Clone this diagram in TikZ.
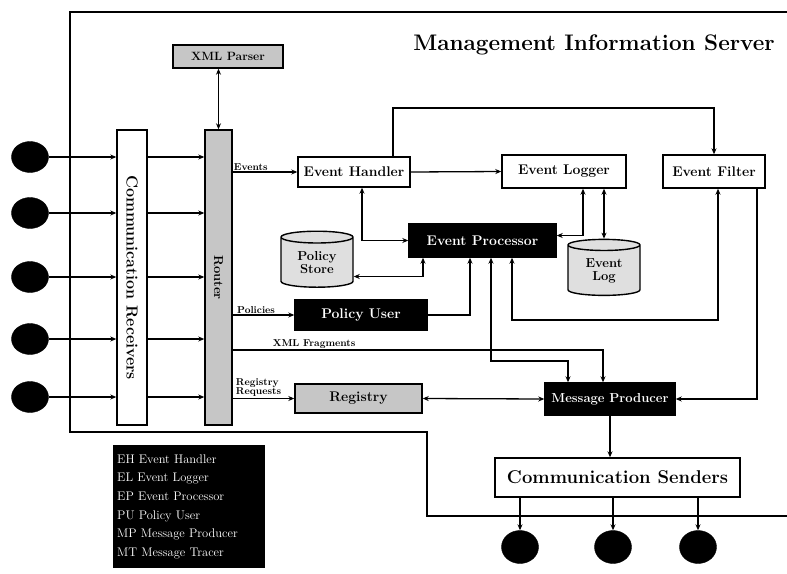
\documentclass[tikz,border=0pt]{standalone}
\usepackage{fontspec}
\usetikzlibrary{arrows.meta,shapes.geometric,calc}
\begin{document}
\begin{tikzpicture}[x=1pt,y=-1pt,
  box/.style={draw,line width=1.4pt,fill=white,inner sep=0pt,font=\bfseries\fontsize{14}{16}\selectfont},
  dark/.style={box,fill=black,text=white},
  grain/.style={box,fill=gray!45},
  arr/.style={line width=1.3pt,-{Stealth[length=6pt,width=5pt]}},
  dbl/.style={line width=1.3pt,{Stealth[length=6pt,width=5pt]}-{Stealth[length=6pt,width=5pt]}},
  lab/.style={font=\bfseries\fontsize{10}{11}\selectfont,inner sep=1pt},
  dot/.style={ellipse,fill=black,draw,minimum width=37,minimum height=31,inner sep=0pt},
  store/.style={cylinder,shape border rotate=90,draw,line width=1.4pt,aspect=0.3,fill=gray!25,align=center,inner sep=0pt,minimum width=72,minimum height=56,font=\bfseries\fontsize{13}{13}\selectfont}]
\useasboundingbox (0,0) rectangle (787,573);
% server boundary
\draw[line width=1.4pt] (787,12) -- (70,12) -- (70,432) -- (427,432) -- (427,516) -- (787,516);
\node[font=\bfseries\fontsize{22.5}{26}\selectfont,anchor=center] (title) at (594,45) {Management Information Server};
% nodes
\node[grain,minimum width=110,minimum height=23,font=\bfseries\fontsize{12}{13}\selectfont] (xml) at (228,56.5) {XML Parser};
\node[grain,rotate=-90,minimum width=295,minimum height=27,font=\bfseries\fontsize{13}{14}\selectfont] (router) at (218.5,277.5) {Router};
\node[box,rotate=-90,minimum width=295,minimum height=30,font=\bfseries\fontsize{16}{18}\selectfont] (cr) at (132,277.5) {Communication Receivers};
\node[box,minimum width=112,minimum height=30] (eh) at (354,172) {Event Handler};
\node[box,minimum width=124,minimum height=33] (el) at (564,171.5) {Event Logger};
\node[box,minimum width=102,minimum height=33] (ef) at (714,171.5) {Event Filter};
\node[dark,minimum width=147,minimum height=33] (ep) at (482.5,240.5) {Event Processor};
\node[dark,minimum width=132,minimum height=30] (pu) at (361,315) {Policy User};
\node[grain,minimum width=127,minimum height=29] (reg) at (358.5,398.5) {Registry};
\node[dark,minimum width=130,minimum height=32,font=\bfseries\fontsize{13}{15}\selectfont] (mp) at (610,399) {Message Producer};
\node[box,minimum width=245,minimum height=39,font=\bfseries\fontsize{18.5}{20}\selectfont] (cs) at (617.5,477.5) {Communication Senders};
\node[store] (ps) at (317,262.5) {Policy\\Store};
\node[store] (elog) at (604,270.5) {Event\\Log};
% legend
\node[fill=black,text=white,anchor=north west,minimum width=152,minimum height=123,text width=144,align=left,inner sep=4pt,font=\fontsize{12.5}{18.7}\selectfont] (legend) at (113,445) {EH Event Handler\\EL Event Logger\\EP Event Processor\\PU Policy User\\MP Message Producer\\MT Message Tracer};
% circles
\foreach \i/\y in {1/157,2/213,3/277,4/339,5/397}{
  \node[dot] (c\i) at (30,\y) {};
  \draw[arr] (c\i) -- (c\i -| cr.south);
  \draw[arr] (c\i -| cr.north) -- (c\i -| router.south);
}
\foreach \i/\x in {1/520,2/613,3/698}{
  \node[dot,minimum height=33] (b\i) at (\x,547) {};
  \draw[arr] (b\i |- cs.south) -- (b\i.north);
}
% coordinates
\coordinate (xf) at (603,350);
\coordinate (top) at (393,108);
\coordinate (r1) at (718,320);
\coordinate (r2) at (568,361);
\coordinate (r3) at (757,188);
% connectors
\draw[dbl] (router.west |- xml.south) -- (router.west);
\draw[arr] (router.north |- eh) -- node[lab,above,pos=0.28] {Events} (eh.west);
\draw[arr] (router.north |- pu) -- node[lab,above,pos=0.38] {Policies} (pu.west);
\draw[arr] (router.north |- xf) -- node[lab,above,pos=0.22] {XML Fragments} (xf) -- (xf |- mp.north);
\draw[arr] (router.north |- reg) -- node[lab,above,align=left,pos=0.42,font=\bfseries\fontsize{10}{9}\selectfont] {Registry\\Requests} (reg.west);
\draw[arr] (eh.east) -- (el.west);
\draw[arr] (top |- eh.north) -- (top) -| (ef.north);
\draw[dbl] ([xshift=8]eh.south) |- (ep.west);
\draw[dbl] ([xshift=-59.5]ep.south) |- ([yshift=-14]ps.east);
\draw[arr] (pu.east) -| ([xshift=-12.5]ep.south);
\draw[dbl] ([xshift=29.5]ep.south) |- (r1) -- (r1 |- ef.south);
\draw[dbl] ([xshift=19]el.south) |- ([yshift=5]ep.east);
\draw[dbl] (elog.north |- el.south) -- (elog.north);
\draw[dbl] ([xshift=8.5]ep.south) |- (r2) -- (r2 |- mp.north);
\draw[dbl] (reg.east) -- (mp.west);
\draw[arr] (r3) |- (mp.east);
\draw[arr] (mp.south) -- (mp.south |- cs.north);
\end{tikzpicture}
\end{document}
